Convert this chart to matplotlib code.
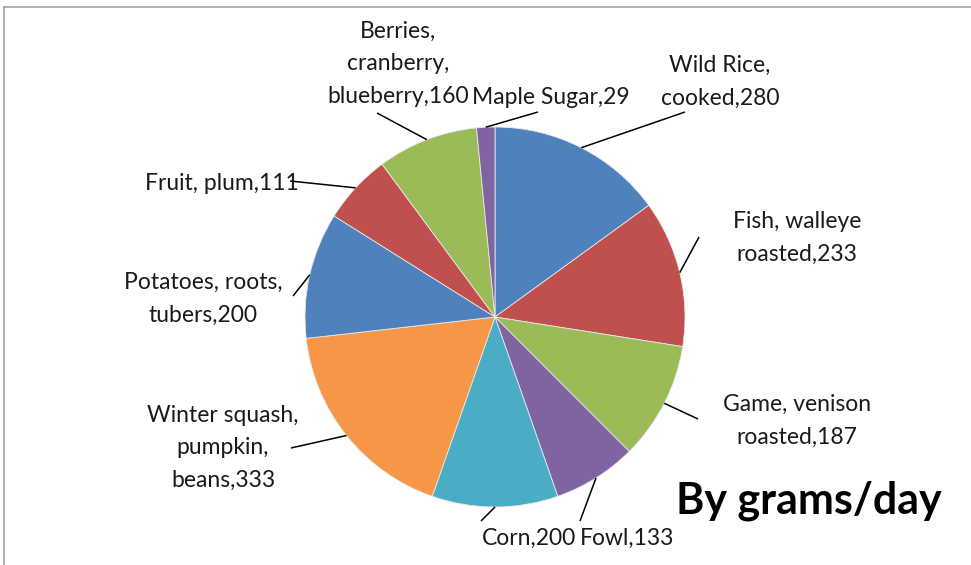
import matplotlib

matplotlib.use("Agg")

import matplotlib.pyplot as plt
import numpy as np

# data
labels = [
    "Wild Rice,\ncooked,280",
    "Fish, walleye\nroasted,233",
    "Game, venison\nroasted,187",
    "Fowl,133",
    "Corn,200",
    "Winter squash,\npumpkin,\nbeans,333",
    "Potatoes, roots,\ntubers,200",
    "Fruit, plum,111",
    "Berries,\ncranberry,\nblueberry,160",
    "Maple Sugar,29",
]
grams = [280, 233, 187, 133, 200, 333, 200, 111, 160, 29]
colors = ["#4F81BD", "#C0504D", "#9BBB59", "#8064A2", "#4BACC6",
          "#F79646", "#4F81BD", "#C0504D", "#9BBB59", "#8064A2"]

# layout, in pixels from the top left of the picture
W, H = 971, 565
center = (495, 317)
radius = 190
label_pos = [(720, 82), (797, 238), (797, 421), (627, 538), (529, 538),
             (223, 448), (203, 299), (222, 183), (398, 64), (551, 97)]
leader_end = [(685, 112), (699, 237), (698, 419), (580, 521), (481, 521),
              (291, 448), (293, 296), (290, 181), (377, 113), (538, 112)]

FONT = "Lato"

fig = plt.figure(figsize=(W / 100, H / 100), dpi=100)
ax = fig.add_axes([0, 0, 1, 1])


def flip(pt):
    return pt[0], H - pt[1]


cx, cy = flip(center)
ax.pie(grams, colors=colors, startangle=90, counterclock=False,
       center=(cx, cy), radius=radius, frame=True,
       wedgeprops={"linewidth": 0.6, "edgecolor": "#e8e8e8"})
ax.set_xlim(0, W)
ax.set_ylim(0, H)
ax.set_aspect("equal")
ax.axis("off")

total = sum(grams)
start = 0
for i, g in enumerate(grams):
    mid = (start + g / 2) / total * 2 * np.pi
    start += g
    ex = cx + radius * np.sin(mid)
    ey = cy + radius * np.cos(mid)
    lx, ly = flip(leader_end[i])
    ax.plot([ex, lx], [ey, ly], color="black", linewidth=1.1, solid_capstyle="butt")
    tx, ty = flip(label_pos[i])
    ax.text(tx, ty, labels[i], ha="center", va="center", fontsize=16.5,
            family=FONT, color="#1a1a1a", linespacing=1.68, multialignment="center")

ax.text(809, H - 501, "By grams/day", ha="center", va="center",
        fontsize=31, fontweight="bold", family=FONT, color="black")

# chart frame (only top and left edges are inside the crop)
ax.plot([4, 4], [0, H - 7], color="#a6a6a6", linewidth=1.2)
ax.plot([4, W], [H - 7, H - 7], color="#a6a6a6", linewidth=1.2)

fig.savefig("out.png", dpi=100, facecolor="white")
